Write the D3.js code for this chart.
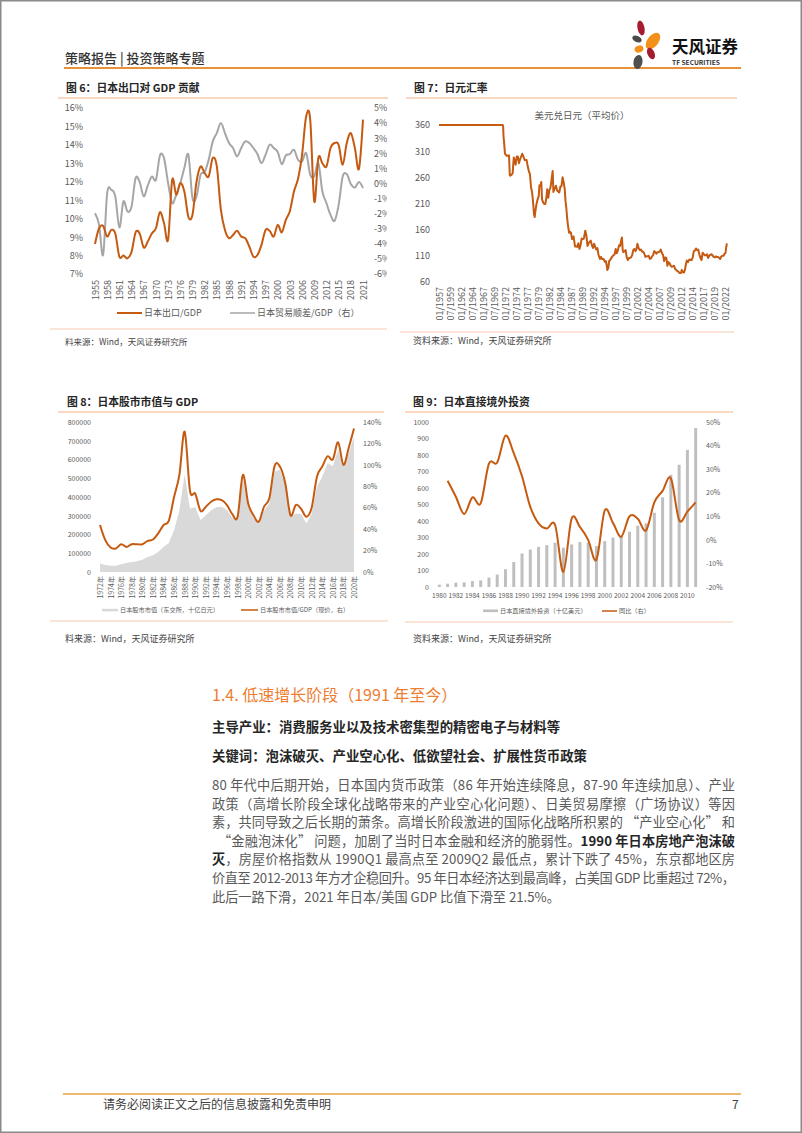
<!DOCTYPE html>
<html><head><meta charset="utf-8">
<script src="https://cdn.jsdelivr.net/npm/d3@7"></script>
<style>
body{margin:0;background:#fff;}
svg{display:block;font-family:"Noto Sans CJK SC","Noto Sans",sans-serif;}
</style></head><body>
<svg id="page" width="802" height="1133"></svg>
<script>
// ---------- Chart 6 data ----------
const years6 = [1955,1956,1957,1958,1959,1960,1961,1962,1963,1964,1965,1966,1967,1968,1969,1970,1971,1972,1973,1974,1975,1976,1977,1978,1979,1980,1981,1982,1983,1984,1985,1986,1987,1988,1989,1990,1991,1992,1993,1994,1995,1996,1997,1998,1999,2000,2001,2002,2003,2004,2005,2006,2007,2008,2009,2010,2011,2012,2013,2014,2015,2016,2017,2018,2019,2020,2021];
const exportGdp6 = [8.63,9.48,9.6,9.03,9.39,9.2,7.94,8.0,7.85,8.2,9.26,9.2,8.43,8.76,9.2,9.48,10.35,9.75,8.85,12.1,11.3,11.93,11.47,10.1,10.2,12.0,12.83,12.47,12.29,13.29,12.83,10.48,9.39,8.94,9.12,9.34,9.03,8.94,8.49,7.94,8.03,8.58,9.39,9.34,9.03,9.66,9.26,9.93,10.42,11.47,12.16,13.47,15.55,15.37,10.93,13.29,13.0,12.83,13.83,14.1,14.0,12.92,14.1,14.64,13.83,12.7,15.37];
const tradeGdp6 = [-1.97,-2.74,-4.73,-0.64,-0.42,-0.86,-2.92,-1.19,-1.86,-1.53,0.35,0.09,-0.86,-0.13,0.46,0.24,1.86,1.68,0.02,-1.3,-0.75,0.02,1.02,1.9,-0.97,-0.86,0.58,0.75,1.57,2.79,3.34,4.0,3.34,2.68,2.35,1.79,2.35,2.79,2.68,2.35,1.95,1.35,1.9,2.57,2.35,2.08,1.28,1.86,1.95,2.23,1.57,1.46,2.01,0.58,0.46,1.35,-0.53,-1.31,-2.08,-2.48,-1.42,0.46,0.62,-0.04,-0.27,0.09,-0.31];
const xTicks6 = [1955,1958,1961,1964,1967,1970,1973,1976,1979,1982,1985,1988,1991,1994,1997,2000,2003,2006,2009,2012,2015,2018,2021];
const leftTicks6 = [7,8,9,10,11,12,13,14,15,16];
const rightTicks6 = [-6,-5,-4,-3,-2,-1,0,1,2,3,4,5];

// ---------- Chart 7 data ----------
const fx7 = [["1957-01",360],["1971-07",360],["1971-08",357],["1971-09",338],["1971-10",331],["1971-12",314],["1972-01",305],["1972-06",301],["1972-12",302],["1973-02",265],["1973-03",263],["1973-07",265],["1973-10",268],["1973-11",280],["1974-01",298],["1974-06",284],["1974-09",300],["1974-12",300],["1975-03",287],["1975-07",296],["1975-12",305],["1976-03",300],["1976-07",293],["1976-12",293],["1977-03",281],["1977-06",272],["1977-09",266],["1977-12",241],["1978-03",231],["1978-06",209],["1978-08",190],["1978-10",184],["1978-12",196],["1979-03",209],["1979-06",218],["1979-09",224],["1979-11",245],["1980-02",245],["1980-04",251],["1980-06",218],["1980-09",212],["1980-12",209],["1981-03",209],["1981-06",221],["1981-08",237],["1981-11",221],["1982-02",236],["1982-05",240],["1982-08",255],["1982-11",272],["1983-01",232],["1983-04",238],["1983-08",244],["1983-11",235],["1984-02",233],["1984-05",231],["1984-08",242],["1984-11",243],["1985-02",260],["1985-05",251],["1985-08",237],["1985-10",215],["1985-12",203],["1986-03",179],["1986-05",167],["1986-08",154],["1986-10",156],["1987-01",154],["1987-04",142],["1987-08",147],["1987-12",128],["1988-03",128],["1988-06",127],["1988-09",134],["1988-12",123],["1989-03",130],["1989-06",143],["1989-09",142],["1989-12",143],["1990-04",158],["1990-07",149],["1990-10",129],["1991-01",134],["1991-04",137],["1991-07",139],["1991-10",130],["1992-01",125],["1992-04",133],["1992-07",127],["1992-10",122],["1993-01",125],["1993-04",112],["1993-08",104],["1993-11",108],["1994-02",104],["1994-06",104],["1994-09",99],["1994-12",100],["1995-03",90],["1995-04",83],["1995-07",87],["1995-09",100],["1995-12",102],["1996-03",106],["1996-06",109],["1996-09",111],["1996-12",113],["1997-03",123],["1997-06",115],["1997-09",121],["1997-12",130],["1998-03",129],["1998-06",140],["1998-08",145],["1998-10",121],["1998-12",117],["1999-03",119],["1999-06",121],["1999-09",107],["1999-12",102],["2000-03",106],["2000-06",106],["2000-09",107],["2000-12",112],["2001-03",121],["2001-06",123],["2001-09",119],["2001-12",124],["2002-02",133],["2002-06",124],["2002-09",121],["2002-12",122],["2003-03",118],["2003-06",118],["2003-09",114],["2003-12",108],["2004-03",109],["2004-06",109],["2004-09",110],["2004-12",104],["2005-03",105],["2005-06",109],["2005-09",111],["2005-12",119],["2006-03",117],["2006-06",114],["2006-09",117],["2006-12",117],["2007-03",118],["2007-06",122],["2007-09",115],["2007-12",112],["2008-03",100],["2008-06",107],["2008-09",106],["2008-12",91],["2009-03",98],["2009-06",96],["2009-09",91],["2009-12",89],["2010-03",90],["2010-06",91],["2010-09",85],["2010-12",83],["2011-03",81],["2011-06",80],["2011-09",77],["2011-10",77],["2012-01",77],["2012-03",83],["2012-06",79],["2012-09",78],["2012-12",84],["2013-02",93],["2013-05",101],["2013-08",98],["2013-12",103],["2014-03",102],["2014-06",102],["2014-09",107],["2014-12",119],["2015-03",120],["2015-06",124],["2015-09",121],["2015-12",122],["2016-03",113],["2016-06",106],["2016-09",102],["2016-12",116],["2017-03",113],["2017-06",111],["2017-09",111],["2017-12",113],["2018-03",106],["2018-06",110],["2018-09",112],["2018-12",113],["2019-03",111],["2019-06",108],["2019-09",107],["2019-12",109],["2020-03",108],["2020-06",108],["2020-09",106],["2020-12",104],["2021-03",109],["2021-06",110],["2021-09",110],["2021-12",114],["2022-02",115],["2022-03",118],["2022-04",126],["2022-05",128],["2022-06",134]];
const xTicks7 = ["01/1957","07/1959","01/1962","07/1964","01/1967","07/1969","01/1972","07/1974","01/1977","07/1979","01/1982","07/1984","01/1987","07/1989","01/1992","07/1994","01/1997","07/1999","01/2002","07/2004","01/2007","07/2009","01/2012","07/2014","01/2017","07/2019","01/2022"];
const yTicks7 = [60,110,160,210,260,310,360];

// ---------- Chart 8 data ----------
const years8 = [1972,1973,1974,1975,1976,1977,1978,1979,1980,1981,1982,1983,1984,1985,1986,1987,1988,1989,1990,1991,1992,1993,1994,1995,1996,1997,1998,1999,2000,2001,2002,2003,2004,2005,2006,2007,2008,2009,2010,2011,2012,2013,2014,2015,2016,2017,2018,2019,2020];
const mktCap8 = [46000,37000,33000,33000,41000,48000,54000,58000,66000,80000,89000,107000,134000,155000,223000,330000,520000,339000,345000,277000,303000,330000,345000,348000,330000,291000,286000,500000,348000,286000,259000,327000,366000,536000,545000,464000,295000,312000,309000,259000,312000,455000,509000,580000,566000,652000,562000,634000,723000];
const capGdp8 = [43.8,29.7,22.8,21.9,25.9,23.4,25.9,25.9,25.9,29,30.3,36,43.8,47.8,70,90.6,131,76,73,57,61,65.6,67.8,67,62.5,54,51.6,90.6,64,53,47,61,68.8,99,98.4,83,53,62.5,59,51.6,60,89,98.4,108,105,121,100,116,134];
const xTicks8 = [1972,1974,1976,1978,1980,1982,1984,1986,1988,1990,1992,1994,1996,1998,2000,2002,2004,2006,2008,2010,2012,2014,2016,2018,2020];
const leftTicks8 = [0,100000,200000,300000,400000,500000,600000,700000,800000];
const rightTicks8 = [0,20,40,60,80,100,120,140];

// ---------- Chart 9 data ----------
const years9 = [1980,1981,1982,1983,1984,1985,1986,1987,1988,1989,1990,1991,1992,1993,1994,1995,1996,1997,1998,1999,2000,2001,2002,2003,2004,2005,2006,2007,2008,2009,2010,2011];
const fdi9 = [14,20,26,28,36,40,57,75,108,152,203,227,243,254,268,238,258,272,270,248,278,300,305,335,372,386,450,543,680,741,831,963];
const growth9 = [null,25.1,18.3,11,18,15.5,32.3,32.8,44.2,36.8,27,14,7,4.8,6.3,-13.6,9,5.5,0,-8.4,12.4,7.2,1.3,10,9,4,15.9,20.8,26.1,8.4,12,15.9];
const xTicks9 = [1980,1982,1984,1986,1988,1990,1992,1994,1996,1998,2000,2002,2004,2006,2008,2010];
const leftTicks9 = [0,100,200,300,400,500,600,700,800,900,1000];
const rightTicks9 = [-20,-10,0,10,20,30,40,50];

// ---------- Text ----------
const paraLines = [
  [["80 年代中后期开始，日本国内货币政策（86 年开始连续降息，87-90 年连续加息）、产业",0]],
  [["政策（高增长阶段全球化战略带来的产业空心化问题）、日美贸易摩擦（广场协议）等因",0]],
  [["素，共同导致之后长期的萧条。高增长阶段激进的国际化战略所积累的 “产业空心化” 和",0]],
  [["“金融泡沫化” 问题，加剧了当时日本金融和经济的脆弱性。",0],["1990 年日本房地产泡沫破",1]],
  [["灭",1],["，房屋价格指数从 1990Q1 最高点至 2009Q2 最低点，累计下跌了 45%，东京都地区房",0]],
  [["价直至 2012-2013 年方才企稳回升。95 年日本经济达到最高峰，占美国 GDP 比重超过 72%，",0]],
  [["此后一路下滑，2021 年日本/美国 GDP 比值下滑至 21.5%。",0]]
];

// ================= drawing =================
const svg = d3.select("#page");
svg.append("rect").attr("width",802).attr("height",1133).attr("fill","#fff");
svg.append("rect").attr("x",0.75).attr("y",0.75).attr("width",800.5).attr("height",1131.5)
  .attr("fill","none").attr("stroke","#8a8a8a").attr("stroke-width",1.5);

const ORANGE = "#C55A11", GREY_TXT = "#595959", TITLE = "#262626", ULINE = "#F4B183";

// header
svg.append("text").attr("x",65).attr("y",63).attr("font-size",13).attr("fill","#333")
  .attr("font-weight",500).text("策略报告 | 投资策略专题");
svg.append("line").attr("x1",64).attr("x2",741).attr("y1",68).attr("y2",68)
  .attr("stroke","#E8913A").attr("stroke-width",2);
// logo
const logo = svg.append("g");
const petals = [
  [641,28,3.5,7.5,-12,"#A51C30"],
  [653,41,5.5,9.5,38,"#F39019"],
  [637,39,5,3,25,"#4A4A4A"],
  [639,49,4.5,3.5,-20,"#F39019"],
  [651,53.5,3.5,6,-25,"#A51C30"],
  [638,62,4.5,7,10,"#4F4F4F"]
];
petals.forEach(p=>logo.append("ellipse").attr("cx",p[0]).attr("cy",p[1]).attr("rx",p[2]).attr("ry",p[3])
  .attr("transform",`rotate(${p[4]},${p[0]},${p[1]})`).attr("fill",p[5]));
svg.append("text").attr("x",672).attr("y",53).attr("font-size",16.5).attr("font-weight",700)
  .attr("fill","#111").text("天风证券");
svg.append("text").attr("x",672).attr("y",65).attr("font-size",6.5).attr("font-weight",700)
  .attr("fill","#333").attr("textLength",48).attr("lengthAdjust","spacingAndGlyphs").text("TF SECURITIES");

function title(x,y,t){ svg.append("text").attr("x",x).attr("y",y).attr("font-size",10.8)
  .attr("font-weight",700).attr("fill",TITLE).text(t); }
function hline(x1,x2,y,c,w){ svg.append("line").attr("x1",x1).attr("x2",x2).attr("y1",y).attr("y2",y)
  .attr("stroke",c).attr("stroke-width",w||1); }
function source(x,y,t,fs){ svg.append("text").attr("x",x).attr("y",y).attr("font-size",fs||9)
  .attr("fill","#444").text(t); }
function styleAxis(g,fs){
  g.attr("font-family",null).attr("font-size",fs);
  g.select(".domain").remove(); g.selectAll(".tick line").remove();
  g.selectAll("text").attr("fill",GREY_TXT);
}
function rotate(g){
  g.selectAll("text").attr("transform","rotate(-90)").attr("x",-5).attr("y",0)
    .attr("dy","0.35em").style("text-anchor","end");
}
function legendLine(x1,x2,y,c,w,label,fs){
  svg.append("line").attr("x1",x1).attr("x2",x2).attr("y1",y).attr("y2",y).attr("stroke",c).attr("stroke-width",w);
  svg.append("text").attr("x",x2+2).attr("y",y).attr("dy","0.35em").attr("font-size",fs).attr("fill",GREY_TXT).text(label);
}

// ---------- Chart 6 ----------
title(66,92,"图 6：日本出口对 GDP 贡献");
hline(58,388,98,ULINE);
{
  const x = d3.scaleLinear().domain([1955,2021]).range([95,363]);
  const yL = d3.scaleLinear().domain([7,16]).range([274,108]);
  const yR = d3.scaleLinear().domain([-6,5]).range([274,108]);
  const gl = svg.append("g").attr("transform","translate(83,0)")
    .call(d3.axisLeft(yL).tickValues(leftTicks6).tickFormat(d=>d+"%").tickSize(0).tickPadding(0));
  styleAxis(gl,9);
  svg.append("clipPath").attr("id","c6r").append("rect").attr("x",360).attr("y",90).attr("width",27).attr("height",200);
  const wrap = svg.append("g").attr("clip-path","url(#c6r)");
  const gr = wrap.append("g").attr("transform","translate(374,0)")
    .call(d3.axisRight(yR).tickValues(rightTicks6).tickFormat(d=>d+"%").tickSize(0).tickPadding(0));
  styleAxis(gr,9);
  const gx = svg.append("g").attr("transform","translate(0,275)")
    .call(d3.axisBottom(x).tickValues(xTicks6).tickFormat(d3.format("d")).tickSize(0));
  styleAxis(gx,9); rotate(gx);
  const c = d3.curveCardinal.tension(0);
  svg.append("path").attr("d",d3.line().x((d,i)=>x(years6[i])).y(d=>yR(d)).curve(c)(tradeGdp6))
    .attr("fill","none").attr("stroke","#A6A6A6").attr("stroke-width",2);
  svg.append("path").attr("d",d3.line().x((d,i)=>x(years6[i])).y(d=>yL(d)).curve(c)(exportGdp6))
    .attr("fill","none").attr("stroke",ORANGE).attr("stroke-width",2);
  legendLine(117,142,313,ORANGE,2,"日本出口/GDP",9);
  legendLine(230,255,313,"#A6A6A6",1.5,"日本贸易顺差/GDP（右）",9);
}
hline(50,387,329,"#F8CBAD");
source(65,345,"料来源：Wind，天风证券研究所",8.5);

// ---------- Chart 7 ----------
title(414,92,"图 7：日元汇率");
hline(406,737,98,ULINE);
{
  const pm = d3.timeParse("%m/%Y"), py = d3.timeParse("%Y-%m");
  const x = d3.scaleTime().domain([pm("01/1957"),pm("01/2022")]).range([439,725]);
  const y = d3.scaleLinear().domain([60,360]).range([282,125]);
  svg.append("text").attr("x",582).attr("y",118.5).attr("text-anchor","middle").attr("font-size",9.5)
    .attr("fill",GREY_TXT).text("美元兑日元（平均价）");
  const gl = svg.append("g").attr("transform","translate(430,0)")
    .call(d3.axisLeft(y).tickValues(yTicks7).tickSize(0).tickPadding(0));
  styleAxis(gl,9);
  const gx = svg.append("g").attr("transform","translate(0,282)")
    .call(d3.axisBottom(x).tickValues(xTicks7.map(pm)).tickFormat(d3.timeFormat("%m/%Y")).tickSize(0));
  styleAxis(gx,9); rotate(gx);
  svg.append("path").attr("d",d3.line().x(d=>x(py(d[0]))).y(d=>y(d[1]))(fx7))
    .attr("fill","none").attr("stroke",ORANGE).attr("stroke-width",2).attr("stroke-linejoin","round");
}
hline(400,734,332,"#F8CBAD");
source(413,343.5,"资料来源：Wind，天风证券研究所",9);

// ---------- Chart 8 ----------
title(67,406,"图 8：日本股市市值与 GDP");
hline(58,384,412,ULINE);
{
  const x = d3.scaleLinear().domain([1972,2020]).range([100,354]);
  const yL = d3.scaleLinear().domain([0,800000]).range([572,422]);
  const yR = d3.scaleLinear().domain([0,140]).range([572,422]);
  const gl = svg.append("g").attr("transform","translate(91,0)")
    .call(d3.axisLeft(yL).tickValues(leftTicks8).tickFormat(d3.format("d")).tickSize(0).tickPadding(0));
  styleAxis(gl,7);
  const gr = svg.append("g").attr("transform","translate(363,0)")
    .call(d3.axisRight(yR).tickValues(rightTicks8).tickFormat(d=>d+"%").tickSize(0).tickPadding(0));
  styleAxis(gr,7);
  const gx = svg.append("g").attr("transform","translate(0,571)")
    .call(d3.axisBottom(x).tickValues(xTicks8).tickFormat(d=>d+"年").tickSize(0));
  styleAxis(gx,7); rotate(gx);
  svg.append("path").attr("d",d3.area().x((d,i)=>x(years8[i])).y0(yL(0)).y1(d=>yL(d))(mktCap8))
    .attr("fill","#D9D9D9");
  svg.append("path").attr("d",d3.line().x((d,i)=>x(years8[i])).y(d=>yR(d)).curve(d3.curveCardinal.tension(0))(capGdp8))
    .attr("fill","none").attr("stroke",ORANGE).attr("stroke-width",2);
  svg.append("rect").attr("x",102).attr("y",608.8).attr("width",16).attr("height",2.6).attr("fill","#D9D9D9");
  svg.append("text").attr("x",120).attr("y",610).attr("dy","0.35em").attr("font-size",6.2).attr("fill",GREY_TXT)
    .text("日本股市市值（东交所，十亿日元）");
  legendLine(241,258,610,ORANGE,1.5,"日本股市市值/GDP（现价，右）",6.2);
}
hline(50,388,621,"#F8CBAD");
source(65,642,"料来源：Wind，天风证券研究所",9);

// ---------- Chart 9 ----------
title(413,406,"图 9：日本直接境外投资");
hline(405,733,412,ULINE);
{
  const xb = d3.scaleBand().domain(years9).range([435.2,699.8]).paddingInner(0.64).paddingOuter(0.32);
  const cx = d=>xb(d)+xb.bandwidth()/2;
  const yL = d3.scaleLinear().domain([0,1000]).range([587,422]);
  const yR = d3.scaleLinear().domain([-20,50]).range([587,422]);
  const gl = svg.append("g").attr("transform","translate(429,0)")
    .call(d3.axisLeft(yL).tickValues(leftTicks9).tickFormat(d3.format("d")).tickSize(0).tickPadding(0));
  styleAxis(gl,7);
  const gr = svg.append("g").attr("transform","translate(706,0)")
    .call(d3.axisRight(yR).tickValues(rightTicks9).tickFormat(d=>d+"%").tickSize(0).tickPadding(0));
  styleAxis(gr,7);
  const gx = svg.append("g").attr("transform","translate(0,593)")
    .call(d3.axisBottom(xb).tickValues(xTicks9).tickSize(0).tickPadding(0));
  styleAxis(gx,6.6);
  svg.append("g").selectAll("rect").data(fdi9).join("rect")
    .attr("x",(d,i)=>xb(years9[i])).attr("width",xb.bandwidth())
    .attr("y",d=>yL(d)).attr("height",d=>yL(0)-yL(d)).attr("fill","#BFBFBF");
  const pts = growth9.map((v,i)=>[cx(years9[i]),v]).filter(p=>p[1]!==null);
  svg.append("path").attr("d",d3.line().x(p=>p[0]).y(p=>yR(p[1])).curve(d3.curveCardinal.tension(0))(pts))
    .attr("fill","none").attr("stroke",ORANGE).attr("stroke-width",2);
  svg.append("rect").attr("x",483).attr("y",609.5).attr("width",15).attr("height",2.6).attr("fill","#BFBFBF");
  svg.append("text").attr("x",500).attr("y",611).attr("dy","0.35em").attr("font-size",6.2).attr("fill",GREY_TXT)
    .text("日本直接境外投资（十亿美元）");
  legendLine(602,617,611,ORANGE,1.5,"同比（右）",6.2);
}
hline(405,733,622,"#F8CBAD");
source(413,642,"资料来源：Wind，天风证券研究所",9);

// ---------- Body text ----------
svg.append("text").attr("x",212).attr("y",701).attr("font-size",16).attr("fill","#ED7D31")
  .text("1.4. 低速增长阶段（1991 年至今）");
svg.append("text").attr("x",212).attr("y",732).attr("font-size",13.4).attr("font-weight",700).attr("fill",TITLE)
  .text("主导产业：消费服务业以及技术密集型的精密电子与材料等");
svg.append("text").attr("x",212).attr("y",761).attr("font-size",13.4).attr("font-weight",700).attr("fill",TITLE)
  .text("关键词：泡沫破灭、产业空心化、低欲望社会、扩展性货币政策");
paraLines.forEach((segs,i)=>{
  const x0 = i===3 ? 218 : 212;
  const t = svg.append("text").attr("x",x0).attr("y",790+i*18.6).attr("font-size",13.2).attr("fill",GREY_TXT);
  if(i<6) t.attr("textLength",735-x0).attr("lengthAdjust","spacing");
  segs.forEach(s=>t.append("tspan").text(s[0])
    .attr("font-weight",s[1]?700:400).attr("fill",s[1]?TITLE:GREY_TXT));
});

// ---------- Footer ----------
hline(63,741,1094,"#E8A33D",1.5);
svg.append("text").attr("x",103).attr("y",1109).attr("font-size",12).attr("fill","#404040")
  .text("请务必阅读正文之后的信息披露和免责申明");
svg.append("text").attr("x",732).attr("y",1109).attr("font-size",12).attr("fill","#404040").text("7");
</script>
</body></html>
